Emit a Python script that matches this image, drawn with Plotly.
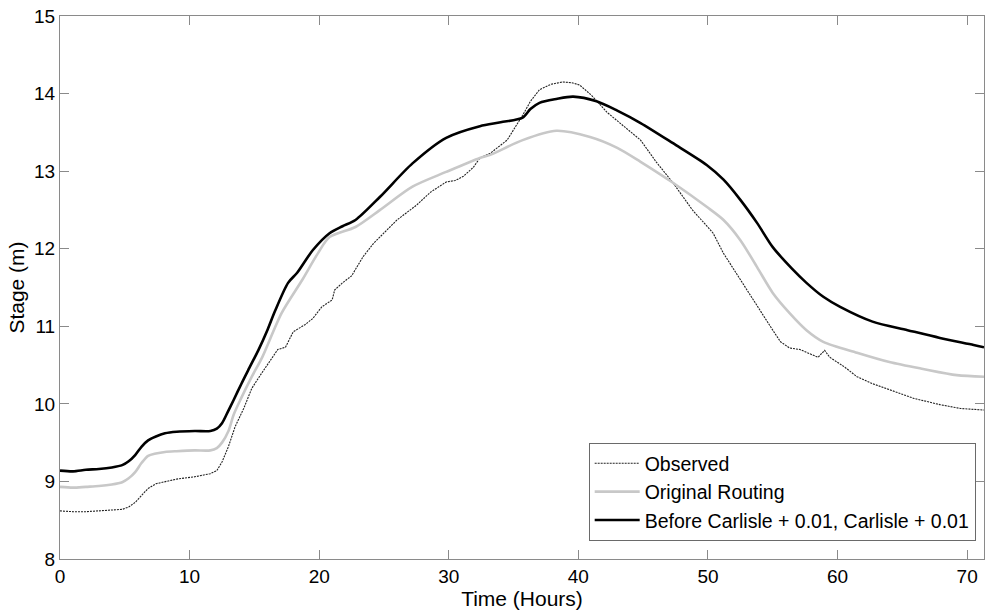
import plotly.graph_objects as go

# Observed stage
obs_t = [0, 1, 2, 3, 4, 4.8, 5.3, 5.8, 6.3, 6.8, 7.4, 8.1, 9, 10.4, 11.6, 12.1, 12.5, 13, 13.5,
         14.2, 14.8, 15.5, 16.1, 16.8, 17.4, 18, 18.9, 19.5, 20.2, 21, 21.2, 21.8, 22.5, 23.4,
         24.2, 24.7, 26, 27.5, 28.6, 29.8, 30.5, 31.1, 31.9, 32.4, 33.2, 34.5, 35.7, 36.3, 37,
         37.9, 38.8, 39.5, 40.1, 41, 42.2, 43.5, 44.8, 46, 47.3, 48.8, 50.4, 51.2, 52.5, 53.8,
         55, 55.6, 56.3, 57.1, 58.5, 59, 59.4, 60.5, 61.5, 62.7, 64, 65.9, 67.9, 69.5, 71.3]
obs_v = [8.62, 8.61, 8.61, 8.62, 8.63, 8.64, 8.67, 8.73, 8.82, 8.91, 8.97, 9.0, 9.03, 9.06, 9.1,
         9.14, 9.25, 9.45, 9.7, 9.95, 10.2, 10.38, 10.53, 10.7, 10.73, 10.93, 11.02, 11.1, 11.25,
         11.34, 11.47, 11.56, 11.65, 11.9, 12.07, 12.15, 12.37, 12.56, 12.73, 12.86, 12.88,
         12.93, 13.05, 13.17, 13.23, 13.4, 13.72, 13.9, 14.05, 14.12, 14.15, 14.14, 14.11,
         13.98, 13.76, 13.58, 13.4, 13.12, 12.85, 12.5, 12.2, 11.94, 11.6, 11.25, 10.95, 10.8,
         10.72, 10.7, 10.6, 10.69, 10.6, 10.48, 10.35, 10.26, 10.18, 10.07, 9.99, 9.94, 9.92]

# Original routing
orig_t = [0, 1, 2, 3, 4, 4.8, 5.3, 5.8, 6.3, 6.8, 7.4, 8.1, 9, 10.4, 11.6, 12.1, 12.5, 13,
          13.4, 14, 14.8, 15.6, 17.1, 18.7, 19.9, 20.8, 22.8, 24.7, 27.2, 29.8, 32.4, 33.2,
          35.7, 38.3, 40.9, 43, 44.8, 47.3, 49.9, 51.2, 52.5, 53.8, 55, 56.3, 57.6, 58.9, 61.5,
          64, 66.6, 69.2, 71.3]
orig_v = [8.93, 8.92, 8.93, 8.94, 8.96, 8.99, 9.04, 9.12, 9.24, 9.33, 9.36, 9.38, 9.39, 9.4,
          9.4, 9.43, 9.5, 9.65, 9.86, 10.08, 10.35, 10.6, 11.17, 11.6, 11.94, 12.15, 12.28,
          12.5, 12.8, 12.99, 13.17, 13.21, 13.4, 13.52, 13.44, 13.3, 13.12, 12.85, 12.54,
          12.37, 12.11, 11.76, 11.43, 11.17, 10.95, 10.8, 10.66, 10.54, 10.45, 10.37, 10.35]

# Before Carlisle + 0.01, Carlisle + 0.01
adj_t = [0, 1, 2, 3, 4, 4.8, 5.3, 5.8, 6.3, 6.8, 7.4, 8.1, 9, 10.4, 11.6, 12.1, 12.5, 12.9,
         13.4, 14, 14.6, 15.3, 16, 16.6, 17.6, 18.3, 19.5, 20.8, 21.8, 22.8, 24.7, 27.2, 29.8,
         32.4, 34, 35.7, 36.3, 37, 38.3, 39.6, 41.4, 43, 44.8, 47.3, 49.9, 51.2, 52.5, 53.8,
         55, 56.5, 57.6, 58.9, 60.2, 62.7, 65.4, 67.9, 70.5, 71.3]
adj_v = [9.14, 9.13, 9.15, 9.16, 9.18, 9.21, 9.26, 9.34, 9.45, 9.53, 9.58, 9.62, 9.64, 9.65,
         9.65, 9.68, 9.75, 9.88, 10.05, 10.26, 10.46, 10.69, 10.95, 11.2, 11.56, 11.69, 11.98,
         12.2, 12.29, 12.37, 12.67, 13.1, 13.43, 13.58, 13.63, 13.69, 13.8, 13.88, 13.93,
         13.96, 13.9, 13.78, 13.62, 13.36, 13.08, 12.89, 12.63, 12.33, 12.02, 11.74, 11.56,
         11.38, 11.25, 11.06, 10.95, 10.85, 10.76, 10.73]

x_ticks = [0, 10, 20, 30, 40, 50, 60, 70]
y_ticks = [8, 9, 10, 11, 12, 13, 14, 15]

font_family = "Arial, Liberation Sans, sans-serif"
axis_grey = "#8a8a8a"

fig = go.Figure()
fig.add_trace(go.Scatter(x=obs_t, y=obs_v, mode="lines", name="Observed",
                         line=dict(color="#222222", width=1.1, dash="2px,1px")))
fig.add_trace(go.Scatter(x=orig_t, y=orig_v, mode="lines", name="Original Routing",
                         line=dict(color="#c8c8c8", width=2.6, shape="spline", smoothing=0.8)))
fig.add_trace(go.Scatter(x=adj_t, y=adj_v, mode="lines",
                         name="Before Carlisle + 0.01, Carlisle + 0.01",
                         line=dict(color="#000000", width=2.6, shape="spline", smoothing=0.8)))

fig.update_layout(
    width=985, height=610,
    margin=dict(l=60, r=1, t=16, b=51),
    paper_bgcolor="white", plot_bgcolor="white",
    font=dict(family=font_family, size=19, color="black"),
    showlegend=True,
    legend=dict(x=0.991, y=0.033, xanchor="right", yanchor="bottom",
                bgcolor="white", bordercolor="#6a6a6a", borderwidth=1,
                font=dict(size=19.5), tracegroupgap=0, itemwidth=45),
)
fig.update_xaxes(range=[0, 71.3], tickvals=x_ticks, ticks="inside", ticklen=9,
                 tickcolor=axis_grey, showline=True, linecolor=axis_grey, linewidth=1,
                 mirror="ticks", showgrid=False, zeroline=False, automargin=False,
                 title=dict(text="Time (Hours)", standoff=0, font=dict(size=21)),
                 tickfont=dict(size=19))
fig.update_yaxes(range=[8, 15], tickvals=y_ticks, ticks="inside", ticklen=9,
                 tickcolor=axis_grey, showline=True, linecolor=axis_grey, linewidth=1,
                 mirror="ticks", showgrid=False, zeroline=False, automargin=False,
                 title=dict(text="Stage (m)", standoff=3, font=dict(size=21)),
                 tickfont=dict(size=19))

fig.write_html("out.html")
